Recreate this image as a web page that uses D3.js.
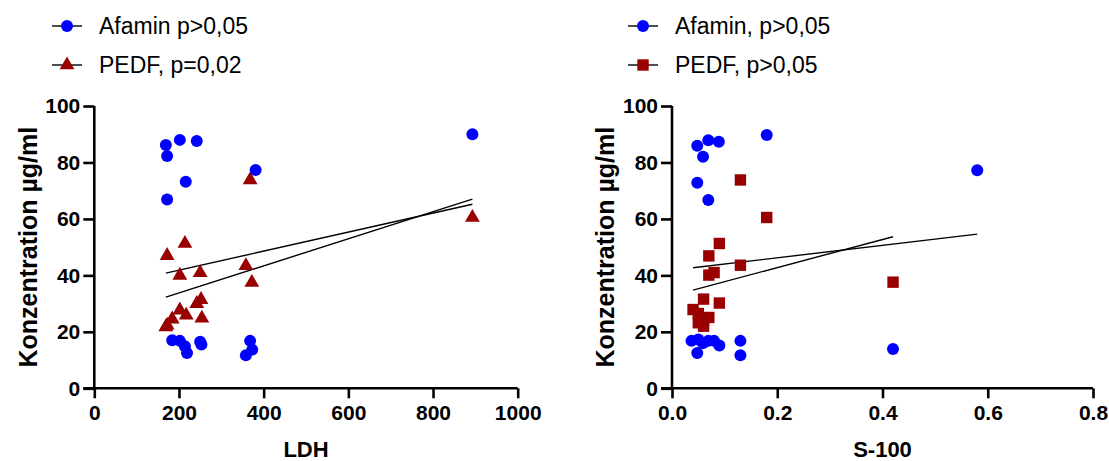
<!DOCTYPE html>
<html>
<head>
<meta charset="utf-8">
<script src="https://cdn.jsdelivr.net/npm/d3@7"></script>
<style>
  body { margin: 0; background: #fff; }
  svg text { font-family: "Liberation Sans", Arial, sans-serif; }
</style>
</head>
<body>
<div id="chart"></div>
<script>
// ---- data ----
var yTicks = [0, 20, 40, 60, 80, 100];

// LDH panel
var ldhTicks = [0, 200, 400, 600, 800, 1000];
var ldhAfaminX = [169, 202, 242, 172, 216, 172, 381, 893, 184, 202, 214, 219, 250, 253, 368, 373, 358];
var ldhAfaminY = [86.2, 88, 87.6, 82.3, 73.2, 66.9, 77.3, 90, 17, 16.8, 14.9, 12.5, 16.5, 15.5, 16.8, 13.7, 11.7];
var ldhPedfX = [368, 214, 172, 358, 372, 202, 250, 252, 242, 202, 217, 254, 184, 172, 169, 893];
var ldhPedfY = [73.8, 51.3, 47, 43.4, 37.5, 40, 40.9, 31.4, 30, 27.7, 25.9, 24.8, 24.5, 22.3, 21.7, 60.5];
// fitted lines: [x start, x end], [y start, y end]
var ldhAfaminFitX = [169, 893], ldhAfaminFitY = [40.8, 65.2];
var ldhPedfFitX = [169, 893], ldhPedfFitY = [32.3, 67.0];

// S-100 panel
var s100Ticks = [0.0, 0.2, 0.4, 0.6, 0.8];
var s100AfaminX = [0.048, 0.069, 0.089, 0.059, 0.048, 0.069, 0.18, 0.58, 0.42, 0.037, 0.05, 0.059, 0.069, 0.08, 0.09, 0.048, 0.13, 0.13];
var s100AfaminY = [85.9, 87.9, 87.3, 82, 72.8, 66.7, 89.7, 77.2, 13.9, 16.8, 17.3, 16, 16.8, 16.8, 15.2, 12.5, 16.8, 11.7];
var s100PedfX = [0.13, 0.18, 0.09, 0.07, 0.13, 0.08, 0.07, 0.06, 0.09, 0.04, 0.05, 0.07, 0.06, 0.05, 0.06, 0.42];
var s100PedfY = [73.8, 60.5, 51.3, 46.9, 43.6, 41, 40.1, 31.6, 30.2, 27.9, 26.5, 25.1, 24.1, 23.2, 22, 37.6];
var s100AfaminFitX = [0.04, 0.58], s100AfaminFitY = [42.7, 54.6];
var s100PedfFitX = [0.04, 0.42], s100PedfFitY = [34.8, 53.7];

var blue = "#0000ff";
var red = "#990000";

var svg = d3.select("#chart").append("svg")
    .attr("width", 1109)
    .attr("height", 461);

function zip(xs, ys) {
    return xs.map(function (d, i) { return {x: d, y: ys[i]}; });
}

function drawPanel(opt) {
    var g = svg.append("g");

    var x = d3.scaleLinear().domain(opt.xDomain).range([opt.left, opt.right]);
    var y = d3.scaleLinear().domain([0, 100]).range([388.3, 106]);

    // y axis
    var gy = g.append("g")
        .attr("transform", "translate(" + opt.left + ",0)")
        .call(d3.axisLeft(y).tickValues(yTicks).tickSize(11).tickPadding(3));
    // x axis
    var gx = g.append("g")
        .attr("transform", "translate(0," + y(0) + ")")
        .call(d3.axisBottom(x).tickValues(opt.xTicks).tickSize(10).tickPadding(7)
            .tickFormat(opt.fmt));

    [gx, gy].forEach(function (a) {
        a.select(".domain").attr("stroke", "#000").attr("stroke-width", 2.6);
        a.selectAll(".tick line").attr("stroke", "#000").attr("stroke-width", 2.6);
        a.selectAll(".tick text")
            .attr("fill", "#000")
            .style("font-size", "21px")
            .style("font-weight", "bold")
            .style("font-family", "'Liberation Sans', Arial, sans-serif");
    });
    // remove end overhang of the domain path
    gy.select(".domain").attr("d", "M0," + y(100) + "V" + y(0));
    gx.select(".domain").attr("d", "M" + (opt.left - 11) + ",0H" + opt.right);

    // axis titles
    g.append("text")
        .attr("transform", "translate(" + opt.yTitleX + "," + ((y(0) + y(100)) / 2) + ") rotate(-90)")
        .attr("text-anchor", "middle")
        .style("font-size", "25px")
        .style("font-weight", "bold")
        .text("Konzentration µg/ml");
    g.append("text")
        .attr("x", (opt.left + opt.right) / 2)
        .attr("y", 457)
        .attr("text-anchor", "middle")
        .style("font-size", "22px")
        .style("font-weight", "bold")
        .text(opt.xTitle);

    // regression lines
    var line = d3.line().x(function (d) { return x(d.x); }).y(function (d) { return y(d.y); });
    g.append("path").datum(zip(opt.aFitX, opt.aFitY))
        .attr("d", line).attr("fill", "none").attr("stroke", "#000").attr("stroke-width", 1.4);
    g.append("path").datum(zip(opt.pFitX, opt.pFitY))
        .attr("d", line).attr("fill", "none").attr("stroke", "#000").attr("stroke-width", 1.4);

    // PEDF points
    var pedfSym = d3.symbol().type(opt.pedfSymbol).size(opt.pedfSize);
    g.selectAll(".pedf").data(zip(opt.pX, opt.pY)).enter()
        .append("path")
        .attr("class", "pedf")
        .attr("d", pedfSym)
        .attr("transform", function (d) { return "translate(" + x(d.x) + "," + y(d.y) + ")"; })
        .attr("fill", red);

    // Afamin points
    g.selectAll(".afamin").data(zip(opt.aX, opt.aY)).enter()
        .append("circle")
        .attr("class", "afamin")
        .attr("cx", function (d) { return x(d.x); })
        .attr("cy", function (d) { return y(d.y); })
        .attr("r", 6)
        .attr("fill", blue);

    // legend
    var leg = g.append("g");
    var rows = [
        {label: opt.aLabel, kind: "circle", yy: 26},
        {label: opt.pLabel, kind: "pedf", yy: 65}
    ];
    rows.forEach(function (r) {
        leg.append("line")
            .attr("x1", opt.legX).attr("x2", opt.legX + 30)
            .attr("y1", r.yy).attr("y2", r.yy)
            .attr("stroke", "#000").attr("stroke-width", 1.4);
        if (r.kind === "circle") {
            leg.append("circle").attr("cx", opt.legX + 15).attr("cy", r.yy).attr("r", 6).attr("fill", blue);
        } else {
            leg.append("path").attr("d", pedfSym)
                .attr("transform", "translate(" + (opt.legX + 15) + "," + r.yy + ")")
                .attr("fill", red);
        }
        leg.append("text")
            .attr("x", opt.legX + 47)
            .attr("y", r.yy + 8)
            .style("font-size", "23px")
            .text(r.label);
    });
}

drawPanel({
    left: 94.3, right: 517.7,
    xDomain: [0, 1000], xTicks: ldhTicks, fmt: d3.format("d"),
    xTitle: "LDH", yTitleX: 37,
    aX: ldhAfaminX, aY: ldhAfaminY, pX: ldhPedfX, pY: ldhPedfY,
    aFitX: ldhAfaminFitX, aFitY: ldhAfaminFitY, pFitX: ldhPedfFitX, pFitY: ldhPedfFitY,
    pedfSymbol: d3.symbolTriangle, pedfSize: 95,
    legX: 52, aLabel: "Afamin p>0,05", pLabel: "PEDF, p=0,02"
});

drawPanel({
    left: 672, right: 1093,
    xDomain: [0, 0.8], xTicks: s100Ticks, fmt: d3.format(".1f"),
    xTitle: "S-100", yTitleX: 614,
    aX: s100AfaminX, aY: s100AfaminY, pX: s100PedfX, pY: s100PedfY,
    aFitX: s100AfaminFitX, aFitY: s100AfaminFitY, pFitX: s100PedfFitX, pFitY: s100PedfFitY,
    pedfSymbol: d3.symbolSquare, pedfSize: 130,
    legX: 628, aLabel: "Afamin, p>0,05", pLabel: "PEDF, p>0,05"
});
</script>
</body>
</html>
